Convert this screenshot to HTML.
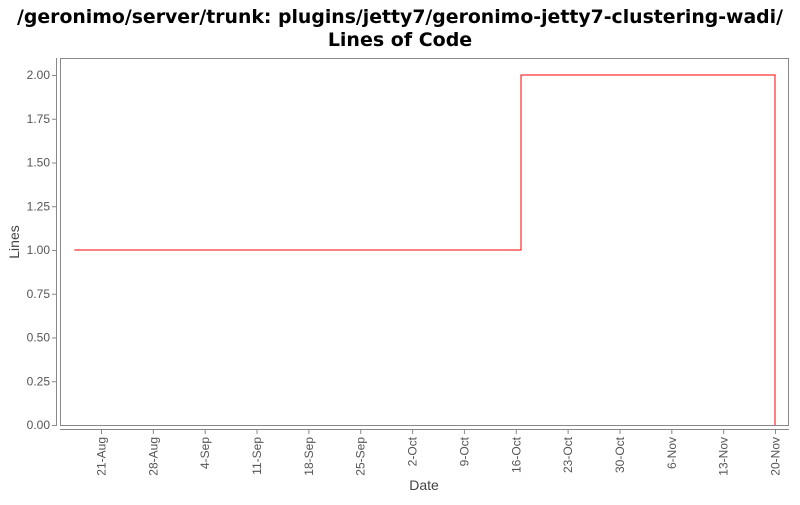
<!DOCTYPE html>
<html><head><meta charset="utf-8"><style>
body{margin:0;background:#fff;}
svg text{font-family:"Liberation Sans","DejaVu Sans",sans-serif;}
svg text.ttl{font-family:"DejaVu Sans",sans-serif;}
</style></head><body>
<svg id="chart" width="800" height="500" xmlns="http://www.w3.org/2000/svg">
<text class="ttl" x="400" y="23" text-anchor="middle" font-size="19" font-weight="bold" textLength="766" lengthAdjust="spacingAndGlyphs">/geronimo/server/trunk: plugins/jetty7/geronimo-jetty7-clustering-wadi/</text>
<text class="ttl" x="400" y="46" text-anchor="middle" font-size="19" font-weight="bold">Lines of Code</text>
<rect x="60.5" y="58.5" width="728" height="367" fill="#fff" stroke="#888"/>
<line x1="56.5" y1="58" x2="56.5" y2="426" stroke="#888"/>
<line x1="60" y1="429.5" x2="789" y2="429.5" stroke="#888"/>
<text transform="translate(19,242) rotate(-90)" text-anchor="middle" font-size="14" fill="#444">Lines</text>
<text x="424" y="490" text-anchor="middle" font-size="14" fill="#444">Date</text>
<g id="yt"></g><g id="xt"></g><g id="series"></g>
</svg>
<script>
const yTicks=[0,0.25,0.5,0.75,1,1.25,1.5,1.75,2];
const xLabels=["21-Aug","28-Aug","4-Sep","11-Sep","18-Sep","25-Sep","2-Oct","9-Oct","16-Oct","23-Oct","30-Oct","6-Nov","13-Nov","20-Nov"];
// days relative to 21-Aug
const xDays=[-3.6,56.7,91,91];
const yVals=[1,2,2,0];
const NS="http://www.w3.org/2000/svg";
function yS(v){return 425-v*175;}
function xS(d){return 101+d*(674/91);}
const yt=document.getElementById('yt');
yTicks.forEach(v=>{
 const y=yS(v);
 const l=document.createElementNS(NS,'line');
 l.setAttribute('x1',52);l.setAttribute('x2',56);l.setAttribute('y1',y+0.5);l.setAttribute('y2',y+0.5);l.setAttribute('stroke','#888');
 
 
 yt.appendChild(l);
 const t=document.createElementNS(NS,'text');
 t.setAttribute('x',50);t.setAttribute('y',y+4);t.setAttribute('text-anchor','end');t.setAttribute('font-size','12');t.setAttribute('fill','#555');
 t.textContent=v.toFixed(2);
 
 
 yt.appendChild(t);
});
const xt=document.getElementById('xt');
xLabels.forEach((s,i)=>{
 const x=xS(i*7);
 const l=document.createElementNS(NS,'line');
 l.setAttribute('x1',x+0.5);l.setAttribute('x2',x+0.5);l.setAttribute('y1',430);l.setAttribute('y2',434);l.setAttribute('stroke','#888');
 
 
 xt.appendChild(l);
 const t=document.createElementNS(NS,'text');
 t.setAttribute('transform','translate('+(x+4.5)+',437) rotate(-90)');t.setAttribute('text-anchor','end');t.setAttribute('font-size','12');t.setAttribute('fill','#555');
 t.textContent=s;
 
 
 xt.appendChild(t);
});
let d='';
for(let i=0;i<xDays.length;i++){
 const x=xS(xDays[i]).toFixed(1), y=yS(yVals[i]).toFixed(1);
 if(i===0)d+='M'+x+','+y;else d+=' H'+x+' V'+y;
}
const p=document.createElementNS(NS,'path');
p.setAttribute('d',d);p.setAttribute('fill','none');p.setAttribute('stroke','#f00');p.setAttribute('stroke-width','1');


document.getElementById('series').appendChild(p);
</script>
</body></html>
